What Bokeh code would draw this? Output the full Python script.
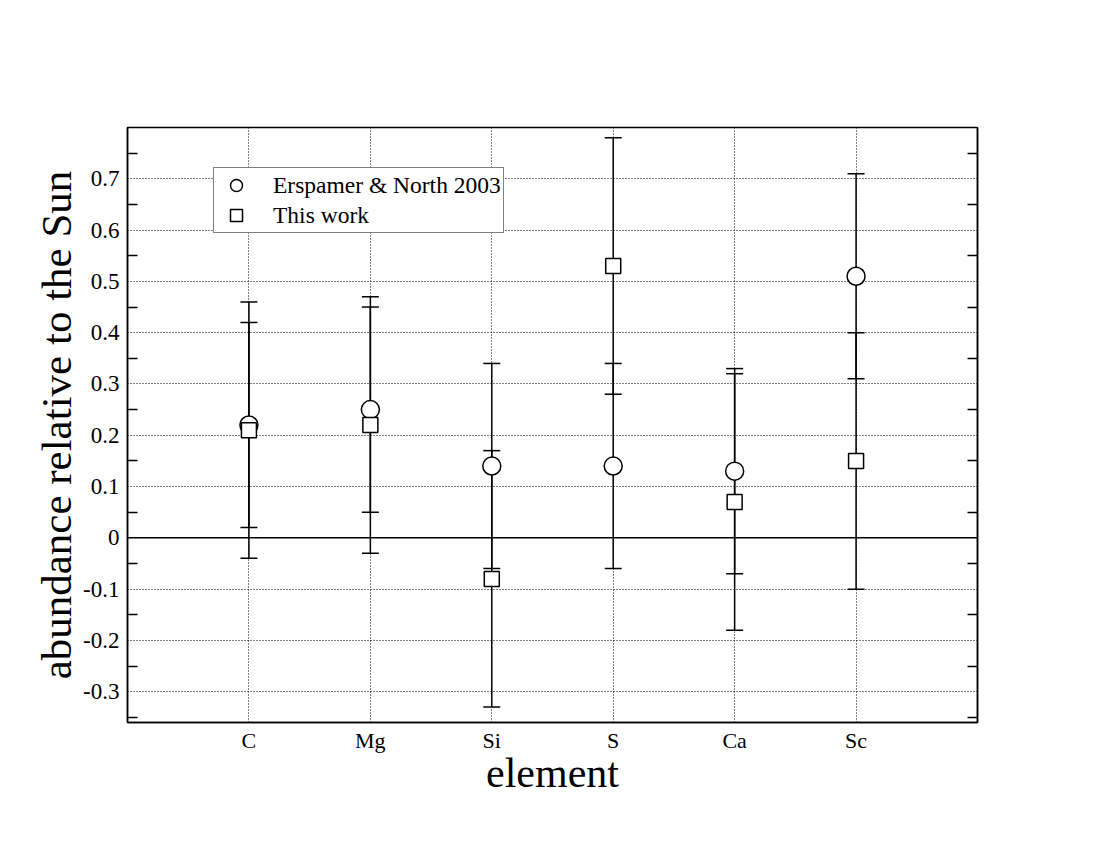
from bokeh.plotting import figure
from bokeh.models import (FixedTicker, LinearAxis, Legend, LegendItem, Span,
                          ColumnDataSource, Range1d)
from bokeh.embed import file_html
from bokeh.resources import INLINE

# ---- data ----
elements = ["C", "Mg", "Si", "S", "Ca", "Sc"]
erspamer_vals = [0.22, 0.25, 0.14, 0.14, 0.13, 0.51]
erspamer_err = [0.20, 0.20, 0.20, 0.20, 0.20, 0.20]
thiswork_vals = [0.21, 0.22, -0.08, 0.53, 0.07, 0.15]
thiswork_err = [0.25, 0.25, 0.25, 0.25, 0.25, 0.25]
y_ticks = [-0.3, -0.2, -0.1, 0.0, 0.1, 0.2, 0.3, 0.4, 0.5, 0.6, 0.7]
y_tick_labels = ["-0.3", "-0.2", "-0.1", "0", "0.1", "0.2", "0.3", "0.4", "0.5", "0.6", "0.7"]
y_minor = [-0.35, -0.25, -0.15, -0.05, 0.05, 0.15, 0.25, 0.35, 0.45, 0.55, 0.65, 0.75]

FONT = "Liberation Serif"

xpos = list(range(1, len(elements) + 1))

def src(vals, errs):
    return ColumnDataSource(dict(
        x=xpos, y=vals,
        lo=[v - e for v, e in zip(vals, errs)],
        hi=[v + e for v, e in zip(vals, errs)],
    ))

s1 = src(erspamer_vals, erspamer_err)
s2 = src(thiswork_vals, thiswork_err)

W, H = 1080, 830
p = figure(width=W, height=H, output_backend="svg", toolbar_location=None,
           x_range=Range1d(0, 7), y_range=Range1d(-0.36, 0.8),
           min_border_left=127, min_border_right=W - 977,
           min_border_top=127, min_border_bottom=H - 722)
p.background_fill_color = "white"
p.border_fill_color = "white"
p.outline_line_color = "black"
p.outline_line_width = 1.5

# axes
p.xaxis.ticker = FixedTicker(ticks=xpos, minor_ticks=[])
p.xaxis.major_label_overrides = {x: e for x, e in zip(xpos, elements)}
p.yaxis.ticker = FixedTicker(ticks=y_ticks, minor_ticks=y_minor)
p.yaxis.major_label_overrides = {t: l for t, l in zip(y_ticks, y_tick_labels)}

for ax in (p.xaxis[0], p.yaxis[0]):
    ax.axis_line_color = "black"
    ax.axis_line_width = 1.5
    ax.major_tick_line_color = None
    ax.major_tick_out = 0
    ax.major_tick_in = 0
    ax.major_label_text_font = FONT
    ax.major_label_text_color = "black"
    ax.axis_label_text_font = FONT
    ax.axis_label_text_font_style = "normal"
    ax.axis_label_text_color = "black"

p.yaxis.major_label_text_font_size = "23px"
p.yaxis.minor_tick_in = 10
p.yaxis.minor_tick_out = 0
p.yaxis.minor_tick_line_color = "black"
p.yaxis.minor_tick_line_width = 1.5
p.yaxis.major_label_standoff = 8
p.yaxis.axis_label = "abundance relative to the Sun"
p.yaxis.axis_label_text_font_size = "43px"
p.yaxis.axis_label_standoff = 0

p.xaxis.major_label_text_font_size = "22px"
p.xaxis.minor_tick_line_color = None
p.xaxis.minor_tick_out = 0
p.xaxis.minor_tick_in = 0
p.xaxis.major_label_standoff = 5
p.xaxis.axis_label = "element"
p.xaxis.axis_label_text_font_size = "42px"
p.xaxis.axis_label_standoff = -6

right = LinearAxis(ticker=FixedTicker(ticks=[], minor_ticks=y_minor))
right.axis_line_color = "black"
right.axis_line_width = 1.5
right.minor_tick_in = 10
right.minor_tick_out = 0
right.minor_tick_line_width = 1.5
right.major_tick_line_color = None
p.add_layout(right, "right")

# grid
p.xgrid.ticker = FixedTicker(ticks=xpos)
p.ygrid.ticker = FixedTicker(ticks=y_ticks)
for g in (p.xgrid[0], p.ygrid[0]):
    g.grid_line_color = "black"
    g.grid_line_dash = "1 2"
    g.grid_line_width = 1

p.add_layout(Span(location=0, dimension="width", line_color="black", line_width=1.5))

# error bars
for s in (s1, s2):
    p.segment(x0="x", y0="lo", x1="x", y1="hi", source=s, line_color="black", line_width=1.5)
    p.scatter(x="x", y="hi", source=s, marker="dash", size=17, line_color="black", line_width=1.5)
    p.scatter(x="x", y="lo", source=s, marker="dash", size=17, line_color="black", line_width=1.5)

r1 = p.scatter(x="x", y="y", source=s1, marker="circle", size=18,
               fill_color="white", line_color="black", line_width=1.5)
r2 = p.scatter(x="x", y="y", source=s2, marker="square", size=15,
               fill_color="white", line_color="black", line_width=1.5)

legend = Legend(items=[LegendItem(label="Erspamer & North 2003", renderers=[r1]),
                       LegendItem(label="This work", renderers=[r2])],
                location=(213 - 127, 722 - 233))
legend.label_text_font = FONT
legend.label_text_font_size = "23.5px"
legend.label_text_color = "black"
legend.border_line_color = "black"
legend.border_line_width = 1.5
legend.padding = 2
legend.spacing = 0
legend.margin = 0
legend.glyph_width = 40
legend.glyph_height = 30
legend.label_standoff = 17
legend.label_height = 30
legend.background_fill_alpha = 1
p.add_layout(legend, "center")

open("out.html", "w").write(file_html(p, INLINE))
